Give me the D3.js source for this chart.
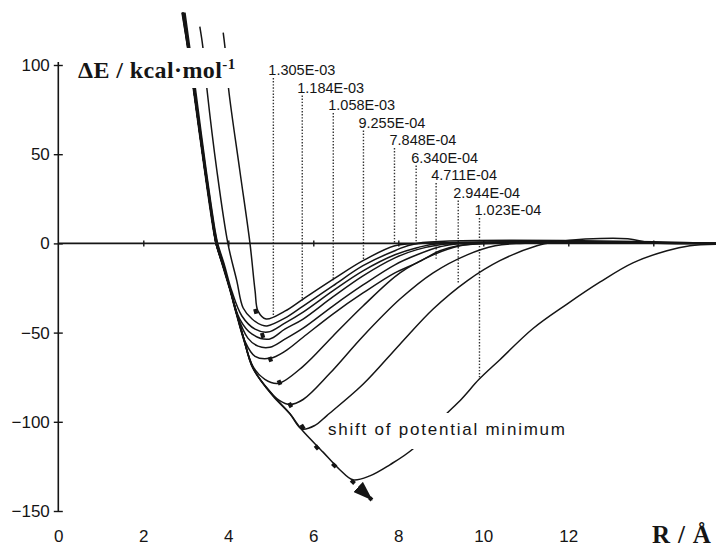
<!DOCTYPE html>
<html>
<head>
<meta charset="utf-8">
<script src="https://cdn.jsdelivr.net/npm/d3@7"></script>
<style>
  html, body { margin: 0; padding: 0; background: #fff; }
  svg { display: block; }
</style>
</head>
<body>
<svg id="chart" width="716" height="548"></svg>
<script>
// Number densities attached to the dotted cut-off markers
const densityLabels = ["1.305E-03", "1.184E-03", "1.058E-03", "9.255E-04", "7.848E-04",
                       "6.340E-04", "4.711E-04", "2.944E-04", "1.023E-04"];
// R (Å) of each dotted marker and the ΔE where it stops
const cutoffR = [5.06, 5.74, 6.47, 7.18, 7.91, 8.42, 8.89, 9.41, 9.91];
const cutoffE = [-41, -32, -21, -9, 0, 0, -9, -22, -75];

// Potential curves, [R / Å, ΔE / kcal mol^-1], shallowest first
const curve1 = [[3.88,118.2],[3.92,110.3],[4.01,86.0],[4.27,41.0],[4.51,0],[4.63,-26.6],[4.70,-38.0],
  [4.89,-42.4],[5.33,-38.0],[5.76,-31.2],[6.49,-19.8],[7.17,-9.7],[7.92,-1.3],[8.50,0],[15.48,0]];
const curve2 = [[3.33,121.5],[3.40,110.3],[3.50,86.0],[3.73,41.0],[3.99,0],[4.20,-21.0],[4.35,-36.2],
  [4.56,-42.4],[4.79,-45.8],[4.91,-46.3],[5.33,-41.9],[5.76,-35.1],[6.46,-23.8],[7.17,-12.5],
  [7.92,-4.1],[8.44,0],[15.48,0]];
const curve3 = [[2.98,129.4],[3.09,110.3],[3.23,86.0],[3.48,41.0],[3.69,7.2],[3.75,0],[3.90,-11.4],
  [4.08,-26.6],[4.32,-40.7],[4.63,-48.1],[4.93,-49.7],[5.33,-44.7],[5.76,-38.5],[6.46,-26.6],
  [7.17,-15.4],[7.92,-6.4],[8.44,-2.4],[8.98,0],[15.48,0]];
const curve4 = [[2.96,129.4],[3.07,110.3],[3.21,86.0],[3.47,41.0],[3.68,7.2],[3.74,0],[3.89,-12],
  [4.04,-25.5],[4.27,-42.4],[4.56,-50.9],[4.96,-53.7],[5.33,-48.1],[5.76,-42.4],[6.46,-30.0],
  [7.17,-18.2],[7.92,-8.1],[8.44,-3.5],[8.98,-0.7],[9.45,0],[15.48,0]];
const curve5 = [[2.94,129.4],[3.06,110.3],[3.20,86.0],[3.46,41.0],[3.67,7.2],[3.73,0],[3.88,-12],
  [4.04,-25.5],[4.20,-39.6],[4.46,-53.1],[4.70,-57.6],[4.98,-58.2],[5.33,-53.7],[5.76,-47.5],
  [6.46,-35.1],[7.17,-23.3],[7.92,-12.0],[8.44,-6.4],[8.98,-1.9],[9.45,0],[15.48,0]];
const curve6 = [[2.93,129.4],[3.05,110.3],[3.19,86.0],[3.45,41.0],[3.66,7.2],[3.72,0],[3.87,-12],
  [4.04,-25.5],[4.20,-39.6],[4.39,-54.8],[4.63,-63.3],[4.98,-64.4],[5.33,-60.5],[5.76,-52.6],
  [6.46,-39.6],[7.17,-27.8],[7.92,-16.5],[8.44,-10.9],[8.98,-4.1],[9.40,-1.3],[9.92,0],[15.48,0]];
const curve7 = [[2.91,129.4],[3.04,110.3],[3.19,86.0],[3.45,41.0],[3.66,7.2],[3.71,0],[3.87,-12],
  [4.04,-25.5],[4.20,-39.6],[4.36,-53],[4.58,-69],[4.86,-76.2],[5.17,-78.5],[5.76,-68.9],
  [6.46,-52.0],[7.17,-35.1],[8.04,-16.5],[8.82,-6.4],[9.45,-1.3],[10.16,0],[15.48,0]];
const curve8 = [[2.92,129.4],[3.04,110.3],[3.18,86.0],[3.44,41.0],[3.65,7.2],[3.71,0],[3.86,-12],
  [4.03,-25.5],[4.19,-39.6],[4.35,-53],[4.58,-69.5],[4.90,-81],[5.20,-88],[5.45,-90.3],[5.76,-87.5],
  [6.39,-72.8],[7.17,-52.0],[8.04,-31.2],[8.82,-16.5],[9.62,-6.4],[10.28,-1.3],[10.86,0],[15.48,0]];
const curve9 = [[2.93,129.4],[3.05,110.3],[3.19,86.0],[3.45,41.0],[3.66,7.2],[3.71,0],[3.87,-12],
  [4.04,-25.5],[4.20,-39.6],[4.36,-53],[4.58,-70],[5.05,-85],[5.45,-95.5],[5.73,-104],[6.04,-102],
  [6.32,-96.5],[7.17,-79.0],[8.04,-56.5],[8.82,-36.8],[9.62,-21.0],[10.39,-9.7],[11.26,-1.3],
  [11.70,0.8],[12.40,2.4],[13.40,2.6],[13.95,0.4],[15.48,0]];
const curve10 = [[2.93,129.4],[3.05,110.3],[3.19,86.0],[3.45,41.0],[3.66,7.2],[3.71,0],[3.87,-12],
  [4.04,-25.5],[4.20,-39.6],[4.36,-53],[4.58,-70],[5.05,-85.5],[5.45,-95.5],[5.73,-104.5],
  [6.23,-117],[6.63,-127],[6.93,-132.5],[7.33,-130.3],[7.80,-124.1],[8.35,-115.1],[9.05,-97.5],
  [9.50,-86.9],[9.90,-76.2],[10.39,-65.2],[11.17,-47.7],[11.97,-34.0],[12.75,-21.6],[13.52,-10.9],
  [14.32,-4.1],[14.86,-1.3],[15.48,-0.5]];

// Path of the shifting potential minimum
const minimumShift = [[4.63,-36.8],[4.98,-64.4],[5.45,-90.3],[6.11,-115.1],[6.93,-133.7],[7.38,-143.8]];

const xTicks = [0, 2, 4, 6, 8, 10, 12];
const xMinorTicks = [2, 4, 6, 8, 10, 12, 14];
const yTicks = [100, 50, 0, -50, -100, -150];

const curves = [curve1, curve2, curve3, curve4, curve5, curve6, curve7, curve8, curve9, curve10];

const svg = d3.select("#chart");
const x = d3.scaleLinear().domain([0, 14]).range([58.3, 653.3]);
const y = d3.scaleLinear().domain([100, -150]).range([65, 511]);
const sans = "'Liberation Sans', Arial, sans-serif";
const serif = "'Liberation Serif', 'Times New Roman', serif";
const ink = "#151515";

svg.append("rect").attr("width", 716).attr("height", 548).attr("fill", "#fff");

const defs = svg.append("defs");
defs.append("marker")
  .attr("id", "arrowhead")
  .attr("viewBox", "0 0 20 14")
  .attr("refX", 19).attr("refY", 7)
  .attr("markerWidth", 20).attr("markerHeight", 14)
  .attr("markerUnits", "userSpaceOnUse")
  .attr("orient", "auto")
  .append("path").attr("d", "M0,0 L20,7 L0,14 Z").attr("fill", ink);

// Dotted cut-off markers with their density labels
const labelBase0 = 75, labelStep = 17.5;
const gCut = svg.append("g");
cutoffR.forEach((r, i) => {
  const base = labelBase0 + i * labelStep;
  gCut.append("line")
    .attr("x1", x(r)).attr("x2", x(r))
    .attr("y1", base + 3).attr("y2", y(cutoffE[i]))
    .attr("stroke", "#333").attr("stroke-width", 1.4)
    .attr("stroke-dasharray", "1.4,1.7");
  gCut.append("text")
    .attr("x", x(r) - 5).attr("y", base)
    .attr("font-family", sans).attr("font-size", 14.5)
    .attr("fill", ink)
    .text(densityLabels[i]);
});

// Potential curves
const line = d3.line()
  .x(d => x(d[0])).y(d => y(d[1]))
  .curve(d3.curveCatmullRom.alpha(0.5));
svg.append("g").selectAll("path").data(curves).join("path")
  .attr("d", line)
  .attr("fill", "none").attr("stroke", ink).attr("stroke-width", 1.5)
  .attr("stroke-linejoin", "round");

// Vertical axis
const yAxis = svg.append("g").attr("transform", `translate(${x(0)},0)`)
  .call(d3.axisLeft(y).tickValues(yTicks).tickSize(4.5).tickPadding(4));
yAxis.select(".domain").remove();
yAxis.selectAll(".tick line").attr("x1", 4.5).attr("stroke", ink).attr("stroke-width", 1.4);
yAxis.selectAll(".tick text").attr("font-family", sans).attr("font-size", 17).attr("fill", ink);
svg.append("line").attr("x1", x(0)).attr("x2", x(0)).attr("y1", 62).attr("y2", y(-150))
  .attr("stroke", ink).attr("stroke-width", 1.6);

// Horizontal axis drawn along ΔE = 0
const xAxis = svg.append("g").attr("transform", `translate(0,${y(0)})`)
  .call(d3.axisBottom(x).tickValues(xMinorTicks).tickSize(3).tickFormat(""));
xAxis.select(".domain").remove();
xAxis.selectAll(".tick line").attr("y1", -3).attr("stroke", ink).attr("stroke-width", 1.4);
svg.append("line").attr("x1", x(0)).attr("x2", 716).attr("y1", y(0)).attr("y2", y(0))
  .attr("stroke", ink).attr("stroke-width", 1.8);

// R tick labels along the bottom
const xLabels = svg.append("g").attr("transform", "translate(0,530)")
  .call(d3.axisBottom(x).tickValues(xTicks).tickSize(0).tickPadding(0));
xLabels.select(".domain").remove();
xLabels.selectAll(".tick text").attr("font-family", sans).attr("font-size", 17).attr("fill", ink);

// Energy axis title on a white plate
svg.append("rect").attr("x", 72).attr("y", 48).attr("width", 172).attr("height", 40).attr("fill", "#fff");
const yTitle = svg.append("text").attr("x", 78).attr("y", 78)
  .attr("font-family", serif).attr("font-weight", "bold").attr("font-size", 24)
  .attr("letter-spacing", 0.4).attr("fill", ink);
yTitle.append("tspan").text("\u0394E / kcal\u00B7mol");
yTitle.append("tspan").attr("font-size", 15).attr("dy", -9).text("-1");

svg.append("text").attr("x", 652).attr("y", 543)
  .attr("font-family", serif).attr("font-weight", "bold").attr("font-size", 25)
  .attr("letter-spacing", 0.8).attr("fill", ink)
  .text("R / \u00C5");

// Minimum-shift arrow and its caption
svg.append("rect").attr("x", 333).attr("y", 413).attr("width", 236).attr("height", 36).attr("fill", "#fff");
svg.append("text").attr("x", 328).attr("y", 435)
  .attr("font-family", sans).attr("font-size", 17)
  .attr("textLength", 237).attr("lengthAdjust", "spacing")
  .attr("fill", ink)
  .text("shift of potential minimum");

svg.append("path")
  .attr("d", line(minimumShift))
  .attr("fill", "none").attr("stroke", ink).attr("stroke-width", 4)
  .attr("stroke-dasharray", "5,20")
  .attr("marker-end", "url(#arrowhead)");
</script>
</body>
</html>
